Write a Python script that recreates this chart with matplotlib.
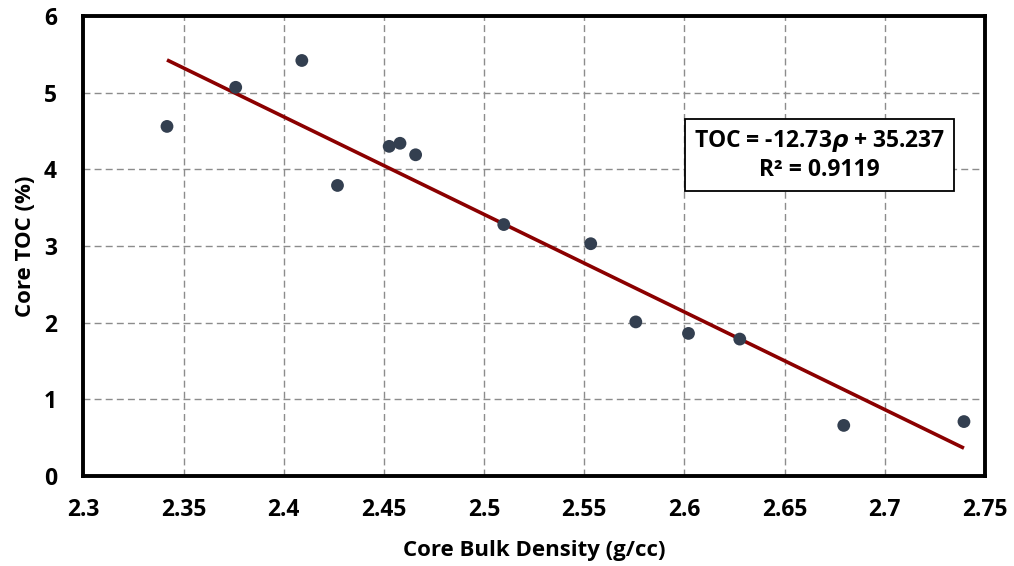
import matplotlib
matplotlib.use("Agg")
import matplotlib.pyplot as plt
import numpy as np

density = [2.3417, 2.376, 2.409, 2.4268, 2.4526, 2.458, 2.4658, 2.5098, 2.5532, 2.5757, 2.602, 2.6276, 2.6795, 2.7395]
toc = [4.56, 5.07, 5.42, 3.79, 4.30, 4.34, 4.19, 3.28, 3.03, 2.01, 1.86, 1.786, 0.66, 0.71]
slope = -12.73
intercept = 35.237
r2 = 0.9119
xticks = [2.3, 2.35, 2.4, 2.45, 2.5, 2.55, 2.6, 2.65, 2.7, 2.75]
xticklabels = ["2.3", "2.35", "2.4", "2.45", "2.5", "2.55", "2.6", "2.65", "2.7", "2.75"]
yticks = [0, 1, 2, 3, 4, 5, 6]

plt.rcParams['font.family'] = ['Open Sans', 'DejaVu Sans']
plt.rcParams['font.weight'] = 'bold'
plt.rcParams['mathtext.fontset'] = 'custom'
plt.rcParams['mathtext.bfit'] = 'DejaVu Sans:italic:bold'

fig = plt.figure(figsize=(10.14, 5.66), dpi=100)
ax = fig.add_axes([0.0823, 0.159, 0.8891, 0.8127])

ax.grid(True, color='#8c8c8c', linestyle=(0, (5, 3)), linewidth=1.0, zorder=0)
ax.set_axisbelow(True)

xs = np.array([min(density), max(density)])
ax.plot(xs, slope * xs + intercept, color='#8b0000', linewidth=2.6, zorder=2, solid_capstyle='butt')
ax.scatter(density, toc, s=85, color='#333f50', zorder=3, edgecolors='none')

ax.set_xlim(2.3, 2.75)
ax.set_ylim(0, 6)
ax.set_xticks(xticks)
ax.set_xticklabels(xticklabels)
ax.set_yticks(yticks)
ax.tick_params(axis='both', length=0, labelsize=16.5)
ax.tick_params(axis='x', pad=16)
ax.tick_params(axis='y', pad=19)
for lab in ax.get_xticklabels() + ax.get_yticklabels():
    lab.set_fontweight('bold')

for sp in ax.spines.values():
    sp.set_linewidth(2.8)
    sp.set_color('black')

ax.set_xlabel('Core Bulk Density (g/cc)', fontsize=16, fontweight='bold', labelpad=13)
ax.set_ylabel('Core TOC (%)', fontsize=16, fontweight='bold', labelpad=6)

ax.text(2.6675, 4.185, "TOC = -12.73$\\boldsymbol{\\rho}$ + 35.237\nR² = 0.9119",
        ha='center', va='center', fontsize=16.5, fontweight='bold', linespacing=1.2,
        bbox=dict(boxstyle='square,pad=0.38', facecolor='white', edgecolor='black', linewidth=1.3),
        zorder=4)

fig.savefig('out.png', dpi=100)
